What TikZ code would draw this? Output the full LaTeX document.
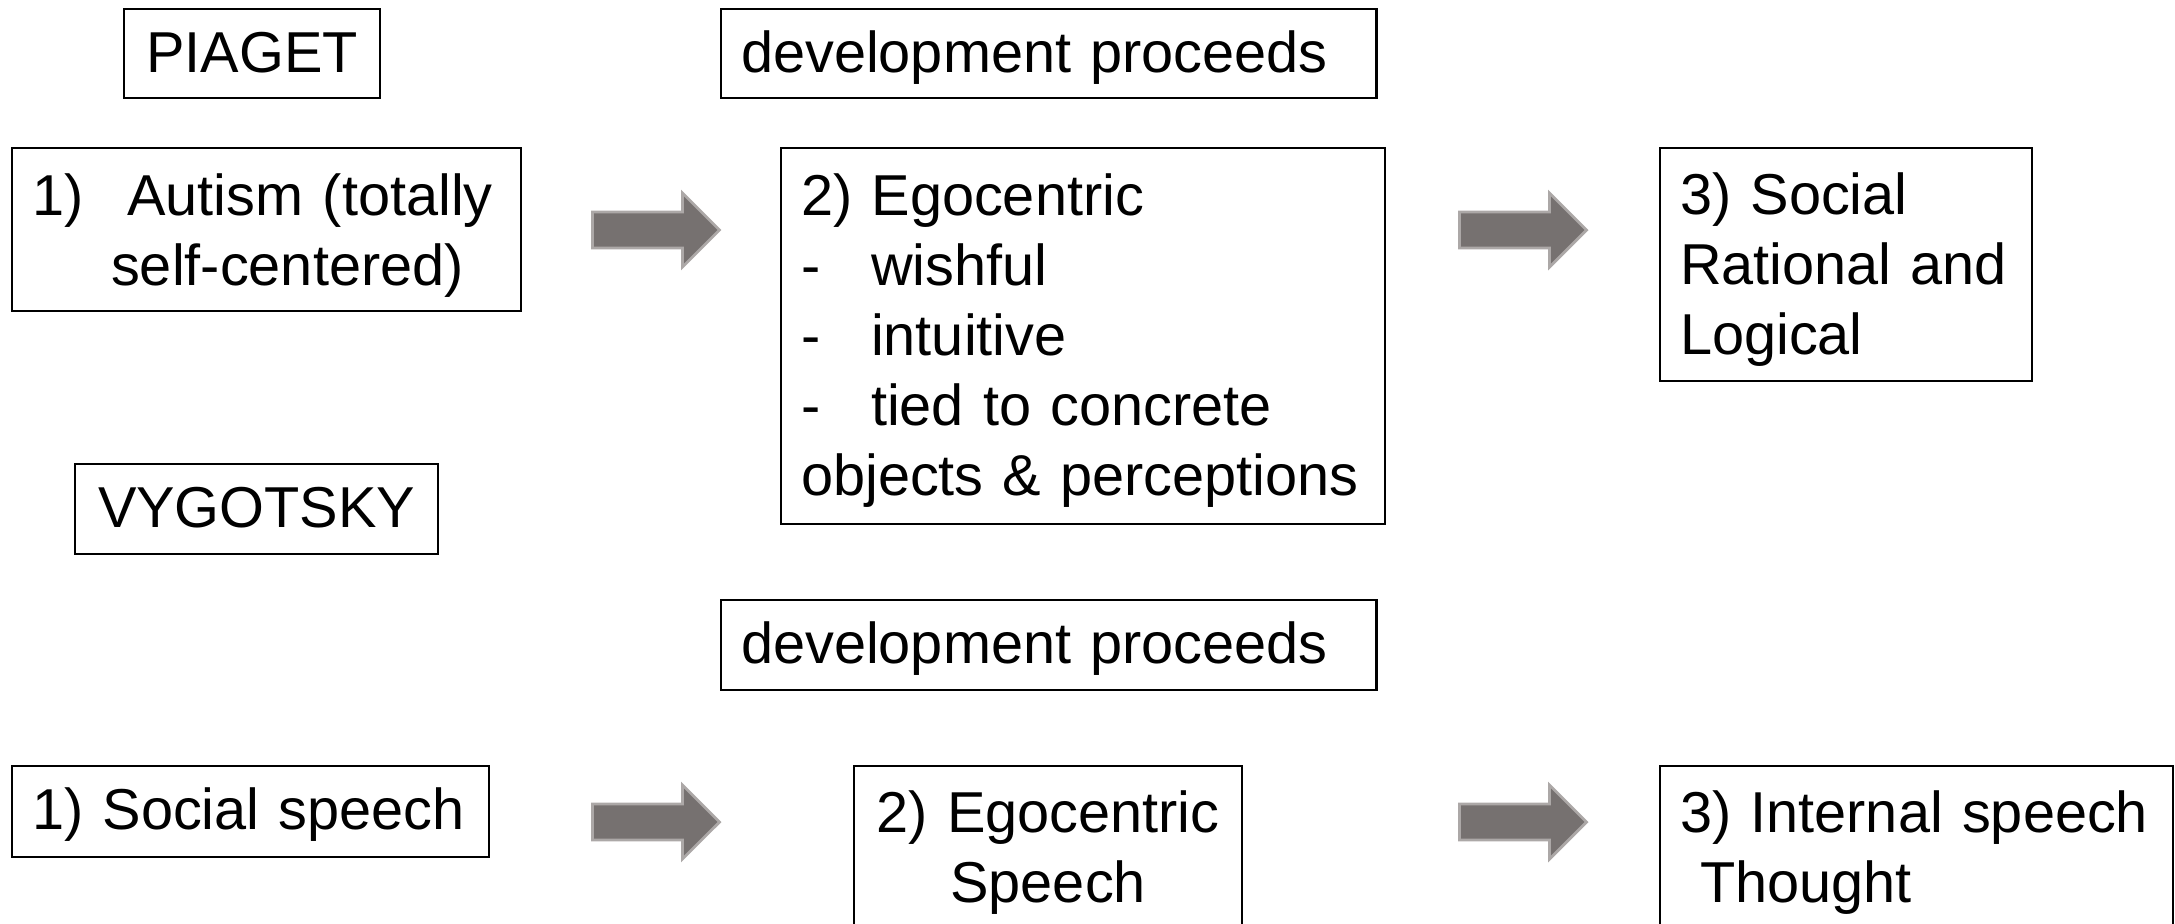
\documentclass[tikz,border=0pt]{standalone}
\usepackage{fontspec}
\setmainfont{Liberation Sans}
\usetikzlibrary{shapes.arrows}

\definecolor{arrowfill}{RGB}{118,113,112}
\definecolor{arrowedge}{RGB}{172,168,167}

% dash with a tab after it, for the list items
\newcommand{\dashitem}{\makebox[0.7cm][l]{-}}

\begin{document}
\begin{tikzpicture}[
  x=0.01cm, y=-0.01cm,
  font=\fontsize{16.4}{19.9}\selectfont,
  box/.style={draw, line width=0.6pt, anchor=north west, align=left,
              inner xsep=0.2cm, inner ysep=0pt,
              text height=0.635cm, text depth=0.255cm},
  flow/.style={single arrow, fill=arrowfill, draw=arrowedge, line width=0.8pt,
               minimum width=0.71cm, minimum height=1.27cm,
               single arrow head extend=0.19cm, inner xsep=0pt, inner ysep=0.165cm}
]
  \useasboundingbox (0,0) rectangle (2175,924);
  \clip (0,0) rectangle (2175,924);

  % Piaget
  \node[box, align=center, text width=2.16cm] (piaget) at (123,8) {PIAGET};
  \node[box, text width=6.15cm] (devtop) at (720,8) {development proceeds};
  \node[box, text width=4.69cm, text height=0.675cm, text depth=0.955cm] (autism) at (11,147)
       {\mbox{1)\hspace{0.44cm}Autism (totally}\\\hspace*{0.79cm}self-centered)};
  \node[box, text width=5.64cm, text height=0.675cm, text depth=3.085cm] (egotop) at (780,147)
       {2) Egocentric\\
        \dashitem wishful\\
        \dashitem intuitive\\
        \dashitem tied to concrete\\
        \mbox{objects \& perceptions}};
  \node[box, text width=3.32cm, text height=0.665cm, text depth=1.665cm] (social) at (1659,147)
       {3) Social\\\mbox{Rational and}\\Logical};
  \node[flow] (stepA) at (647,230) {};
  \node[flow] (stepB) at (1514,230) {};

  % Vygotsky
  \node[box, align=center, text width=3.23cm, text depth=0.265cm] (vygotsky) at (74,463) {VYGOTSKY};
  \node[box, text width=6.15cm, text depth=0.265cm] (devbot) at (720,599) {development proceeds};
  \node[box, text width=4.37cm, text depth=0.275cm] (socspeech) at (11,765) {\mbox{1) Social speech}};
  \node[box, align=center, text width=3.48cm, text height=0.665cm, text depth=1.235cm] (egospeech) at (853,765)
       {2) Egocentric\\Speech};
  \node[box, text width=4.73cm, text height=0.665cm, text depth=1.235cm] (thought) at (1659,765)
       {\mbox{3) Internal speech}\\\hspace*{0.2cm}Thought};
  \node[flow] (stepC) at (647,822) {};
  \node[flow] (stepD) at (1514,822) {};
\end{tikzpicture}
\end{document}
